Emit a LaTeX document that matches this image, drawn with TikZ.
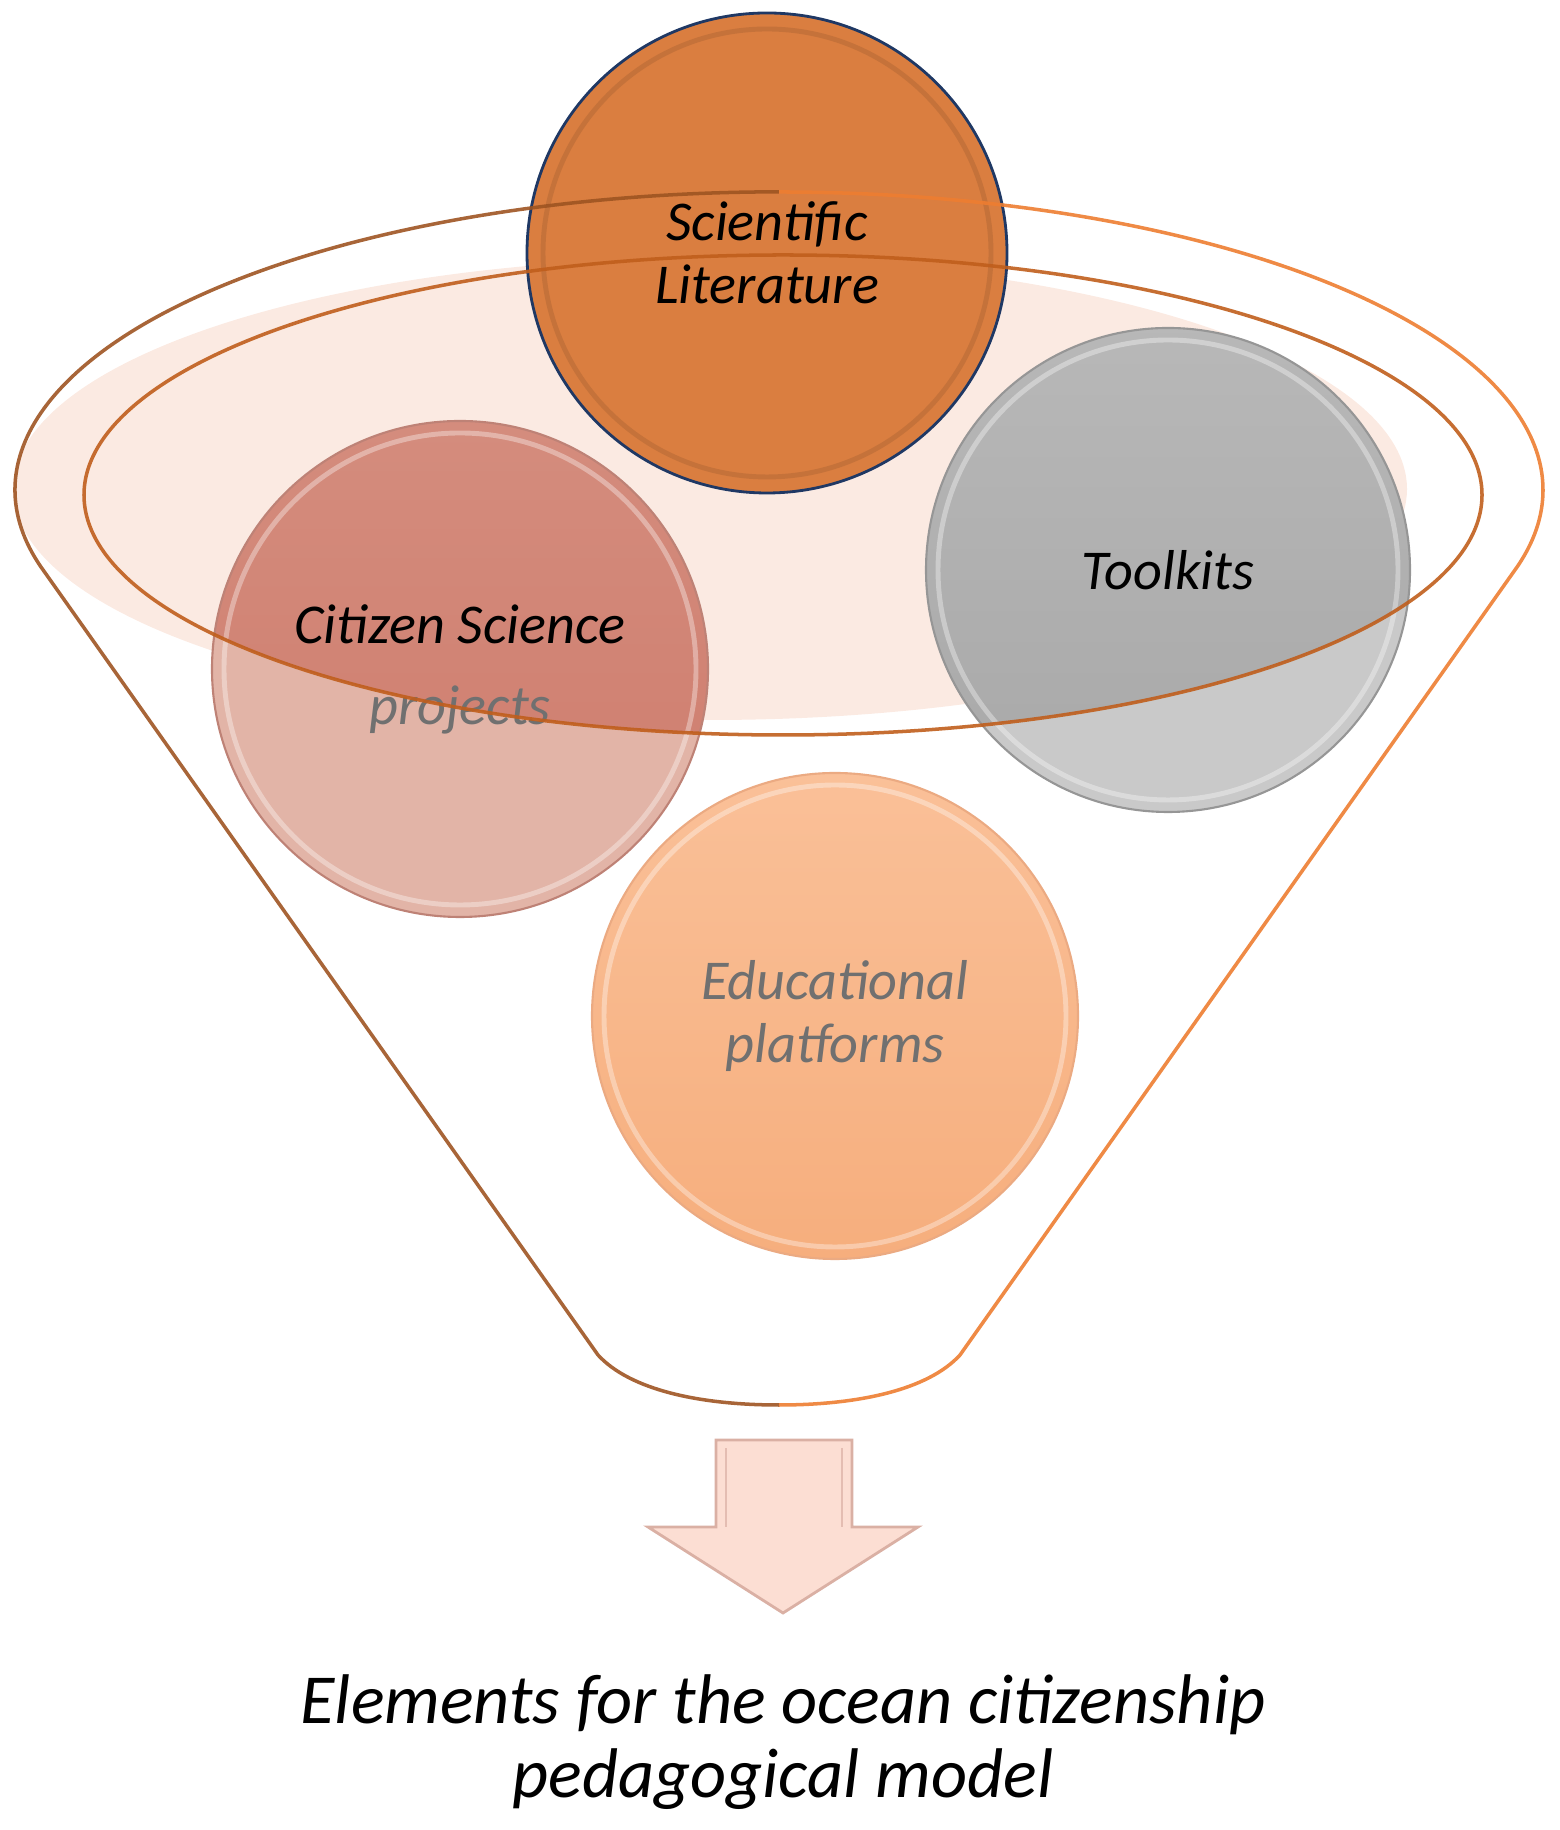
\documentclass[tikz,border=0pt]{standalone}
\usepackage{fontspec}
\setmainfont{Carlito}
\usetikzlibrary{positioning}

\definecolor{sciorange}{RGB}{218,126,64}
\definecolor{sciedge}{RGB}{31,56,100}
\definecolor{scirim}{RGB}{160,92,48}
\definecolor{toolgray}{RGB}{201,201,201}
\definecolor{toolgraytop}{RGB}{186,186,186}
\definecolor{toolgraydk}{RGB}{168,168,168}
\definecolor{tooledge}{RGB}{150,150,150}
\definecolor{citrose}{RGB}{226,180,167}
\definecolor{citrosetop}{RGB}{214,146,131}
\definecolor{citrosedk}{RGB}{206,123,108}
\definecolor{citedge}{RGB}{190,130,118}
\definecolor{edutop}{RGB}{250,192,152}
\definecolor{edupeach}{RGB}{246,174,125}
\definecolor{eduedge}{RGB}{235,170,130}
\definecolor{ringfill}{RGB}{251,234,226}
\definecolor{ringline}{RGB}{192,94,28}
\definecolor{funnelL}{RGB}{158,84,34}
\definecolor{funnelR}{RGB}{237,125,49}
\definecolor{arrowfill}{RGB}{252,222,211}
\definecolor{arrowedge}{RGB}{218,176,164}
\definecolor{txtgray}{RGB}{112,112,112}

\begin{document}
\begin{tikzpicture}[
      bubble/.style={circle, inner sep=0pt, align=center,
                     font=\fontsize{16}{18}\selectfont\itshape},
      rim/.style={line width=1.4pt, opacity=0.35},
      ringln/.style={line width=1pt, opacity=0.9},
      caption/.style={align=center, font=\fontsize{20}{21}\selectfont\itshape}]

    \useasboundingbox (0,0) rectangle (15.6,18.3);

    % ---- Layout ----
    \def\ringrx{6.99}   % inner ring x radius
    \def\ringry{2.40}   % inner ring y radius
    \coordinate (ringc) at (7.83, 13.35);
    \coordinate (fillc) at (7.10, 13.41);
    \coordinate (topc)  at (7.79, 16.38);   % top of funnel rim
    \coordinate (botc)  at (7.79, 4.25);    % bottom of funnel

    % ---- Ring fill ----
    \fill[ringfill] (fillc) ellipse [x radius=6.97, y radius=2.31];

    % ---- Bubbles ----
    \node[bubble, minimum size=4.96cm, fill=citrose, draw=citedge, line width=0.6pt,
          path picture={\shade[top color=citrosetop, bottom color=citrosedk]
                        (ringc) ellipse [x radius=\ringrx, y radius=\ringry];}]
          (cit) at (4.60, 11.61) {Citizen Science\\[5pt]{\color{txtgray}projects}};
    \node[bubble, minimum size=4.84cm, fill=toolgray, draw=tooledge, line width=0.6pt,
          path picture={\shade[top color=toolgraytop, bottom color=toolgraydk]
                        (ringc) ellipse [x radius=\ringrx, y radius=\ringry];}]
          (tool) at (11.68, 12.60) {Toolkits};
    \node[bubble, minimum size=4.86cm, top color=edutop, bottom color=edupeach,
          draw=eduedge, line width=0.6pt, text=txtgray]
          (edu) at (8.35, 8.14) {Educational\\platforms};
    \node[bubble, minimum size=4.80cm, fill=sciorange, draw=sciedge, line width=0.8pt]
          (sci) at (7.67, 15.77) {Scientific\\Literature};

    % bevel rims
    \draw[rim, white]  (cit.center)  circle (2.36);
    \draw[rim, white]  (tool.center) circle (2.30);
    \draw[rim, white]  (edu.center)  circle (2.31);
    \draw[rim, scirim] (sci.center)  circle (2.24);

    % ---- Funnel outline ----
    \draw[ringln, ringline] (ringc) ellipse [x radius=\ringrx, y radius=\ringry];
    \draw[ringln, funnelL] (botc) .. controls (7.00, 4.25) and (6.30, 4.40) .. (5.98, 4.75)
          -- (0.41, 12.63) arc[start angle=195, end angle=90, x radius=7.64, y radius=2.98];
    \draw[ringln, funnelR] (topc) arc[start angle=90, end angle=-15, x radius=7.64, y radius=2.98]
          -- (9.60, 4.75) .. controls (9.28, 4.40) and (8.58, 4.25) .. (botc);

    % ---- Output arrow ----
    \filldraw[fill=arrowfill, draw=arrowedge, line width=0.8pt]
          (7.16, 3.90) -- (8.52, 3.90) -- (8.52, 3.03) -- (9.18, 3.03)
          -- (7.83, 2.17) -- (6.48, 3.03) -- (7.16, 3.03) -- cycle;
    \draw[arrowedge, line width=0.8pt, opacity=0.7]
          (7.26, 3.03) -- (7.26, 3.82) (8.42, 3.82) -- (8.42, 3.03);

    % ---- Caption ----
    \node[caption] (model) at (7.83, 0.88) {Elements for the ocean citizenship\\pedagogical model};

\end{tikzpicture}
\end{document}
